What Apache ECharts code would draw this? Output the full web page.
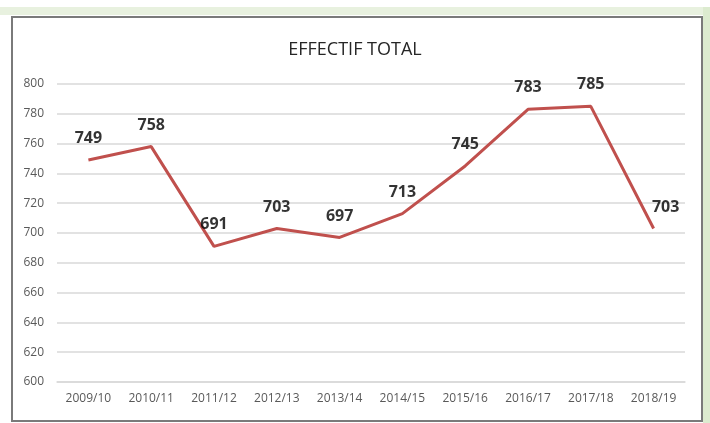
<!DOCTYPE html>
<html><head><meta charset="utf-8">
<script src="https://cdn.jsdelivr.net/npm/echarts@6/dist/echarts.min.js"></script>
<style>html,body{margin:0;padding:0;background:#fff}#c{width:710px;height:423px}</style>
</head><body><div id="c"></div>
<script>
const categories = ['2009/10','2010/11','2011/12','2012/13','2013/14','2014/15','2015/16','2016/17','2017/18','2018/19'];
const values = [749,758,691,703,697,713,745,783,785,703];
const yTicks = {min:600, max:800, interval:20};
const titleText = 'EFFECTIF TOTAL';

const FONT = "'Liberation Sans Narrow','Open Sans',sans-serif";
const chart = echarts.init(document.getElementById('c'));
const data = values.map((v,i)=> i===values.length-1 ? {value:v,label:{offset:[12,0]}} : v);
chart.setOption({
  animation:false,
  backgroundColor:'#fff',
  graphic:[
    {type:'rect',shape:{x:0,y:7,width:710,height:8},style:{fill:'#E8F1DF'},z:-10},
    {type:'rect',shape:{x:703,y:7,width:7,height:416},style:{fill:'#DCEBCF'},z:-10},
    {type:'rect',shape:{x:12,y:17,width:690,height:404},style:{fill:'none',stroke:'#7a7a7a',lineWidth:2},z:-5}
  ],
  title:{text:titleText,left:'center',top:36,textStyle:{fontFamily:FONT,fontWeight:'normal',fontSize:18,color:'#262626'}},
  grid:{left:57,right:25,top:84,bottom:41},
  xAxis:{type:'category',data:categories,boundaryGap:true,
    axisLine:{show:true,lineStyle:{color:'#d9d9d9',width:1.5}},axisTick:{show:false},
    axisLabel:{fontFamily:FONT,fontSize:12,color:'#595959',margin:11}},
  yAxis:{type:'value',min:yTicks.min,max:yTicks.max,interval:yTicks.interval,
    axisLine:{show:false},axisTick:{show:false},
    splitLine:{lineStyle:{color:'#d9d9d9',width:1.5}},
    axisLabel:{fontFamily:FONT,fontSize:12,color:'#595959',margin:13}},
  series:[
    {type:'line',data:values,symbol:'none',
      lineStyle:{color:'#C0504D',width:3},z:2},
    {type:'scatter',data:data,symbolSize:1,
      itemStyle:{color:'rgba(0,0,0,0)'},z:3,
      label:{show:true,position:'top',distance:13,fontFamily:FONT,fontSize:16,fontWeight:'bold',color:'#000'}}
  ]
});
</script></body></html>
